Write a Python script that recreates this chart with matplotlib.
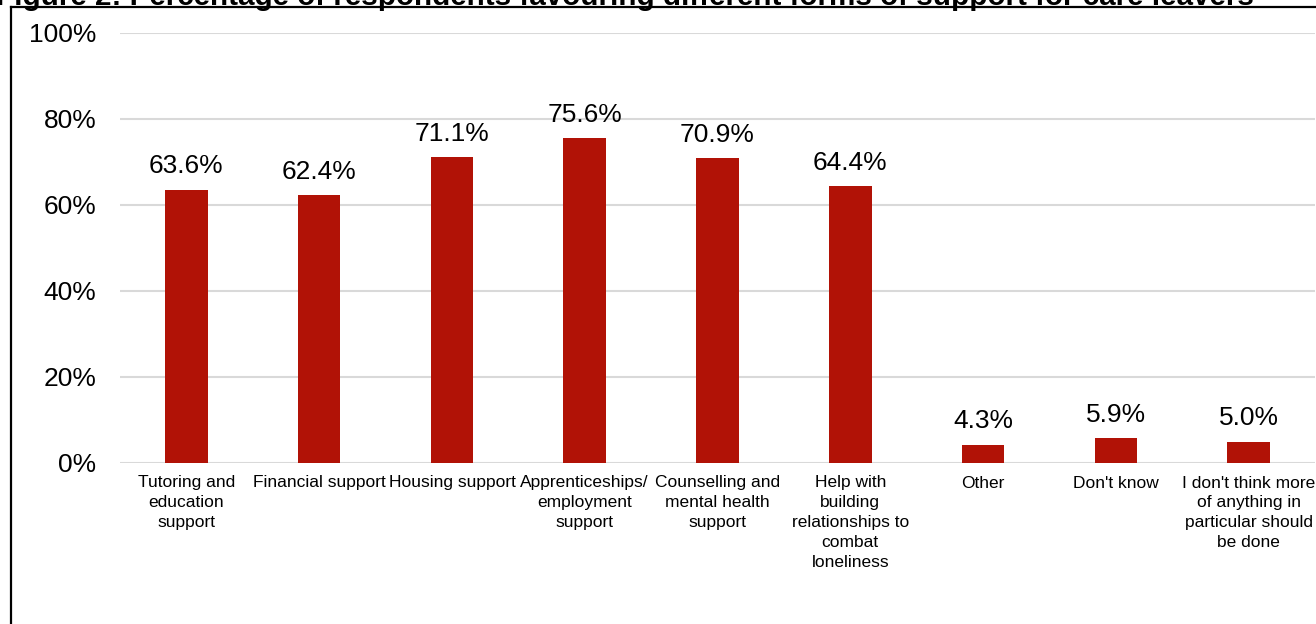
import matplotlib.pyplot as plt
from matplotlib.lines import Line2D

categories = [
    "Tutoring and\neducation\nsupport",
    "Financial support",
    "Housing support",
    "Apprenticeships/\nemployment\nsupport",
    "Counselling and\nmental health\nsupport",
    "Help with\nbuilding\nrelationships to\ncombat\nloneliness",
    "Other",
    "Don't know",
    "I don't think more\nof anything in\nparticular should\nbe done",
]
values = [63.6, 62.4, 71.1, 75.6, 70.9, 64.4, 4.3, 5.9, 5.0]
y_ticks = [0, 20, 40, 60, 80, 100]

title = ("Figure 2: Percentage of respondents favouring different forms "
         "of support for care leavers")

plt.rcParams['font.family'] = ['Liberation Sans', 'DejaVu Sans']

W, H = 1316, 624
fig = plt.figure(figsize=(W / 100, H / 100), dpi=100)
ax = fig.add_axes([120 / W, 161 / H, 1195 / W, 430 / H])

bar_color = '#B11206'
x = range(len(categories))
bars = ax.bar(x, values, width=0.32, color=bar_color, zorder=3)

for rect, v in zip(bars, values):
    ax.annotate(f'{v:.1f}%', (rect.get_x() + rect.get_width() / 2, v),
                xytext=(0, 8), textcoords='offset points',
                ha='center', va='bottom', fontsize=19, color='black')

ax.set_xlim(-0.5, len(categories) - 0.5)
ax.set_ylim(0, 100)
ax.set_yticks(y_ticks)
ax.set_yticklabels([f'{t}%' for t in y_ticks], fontsize=19)
ax.set_xticks(list(x))
ax.set_xticklabels(categories, fontsize=12.5, linespacing=1.4)
ax.tick_params(axis='both', length=0)
ax.tick_params(axis='y', pad=17)
ax.tick_params(axis='x', pad=9)
ax.grid(axis='y', color='#d9d9d9', linewidth=1.5, zorder=0)
for s in ax.spines.values():
    s.set_visible(False)

# outer frame lines, title runs off the top edge
top = 1 - 7 / H
fig.add_artist(Line2D([11 / W, 11 / W], [0, top],
                      transform=fig.transFigure, color='black', lw=1.6))
fig.add_artist(Line2D([11 / W, 1], [top, top],
                      transform=fig.transFigure, color='black', lw=1.6))
fig.text(-4 / W, 1 - 5 / H, title, fontsize=21.3, fontweight='bold',
         ha='left', va='baseline')

fig.savefig('out.png', dpi=100)
plt.close(fig)
